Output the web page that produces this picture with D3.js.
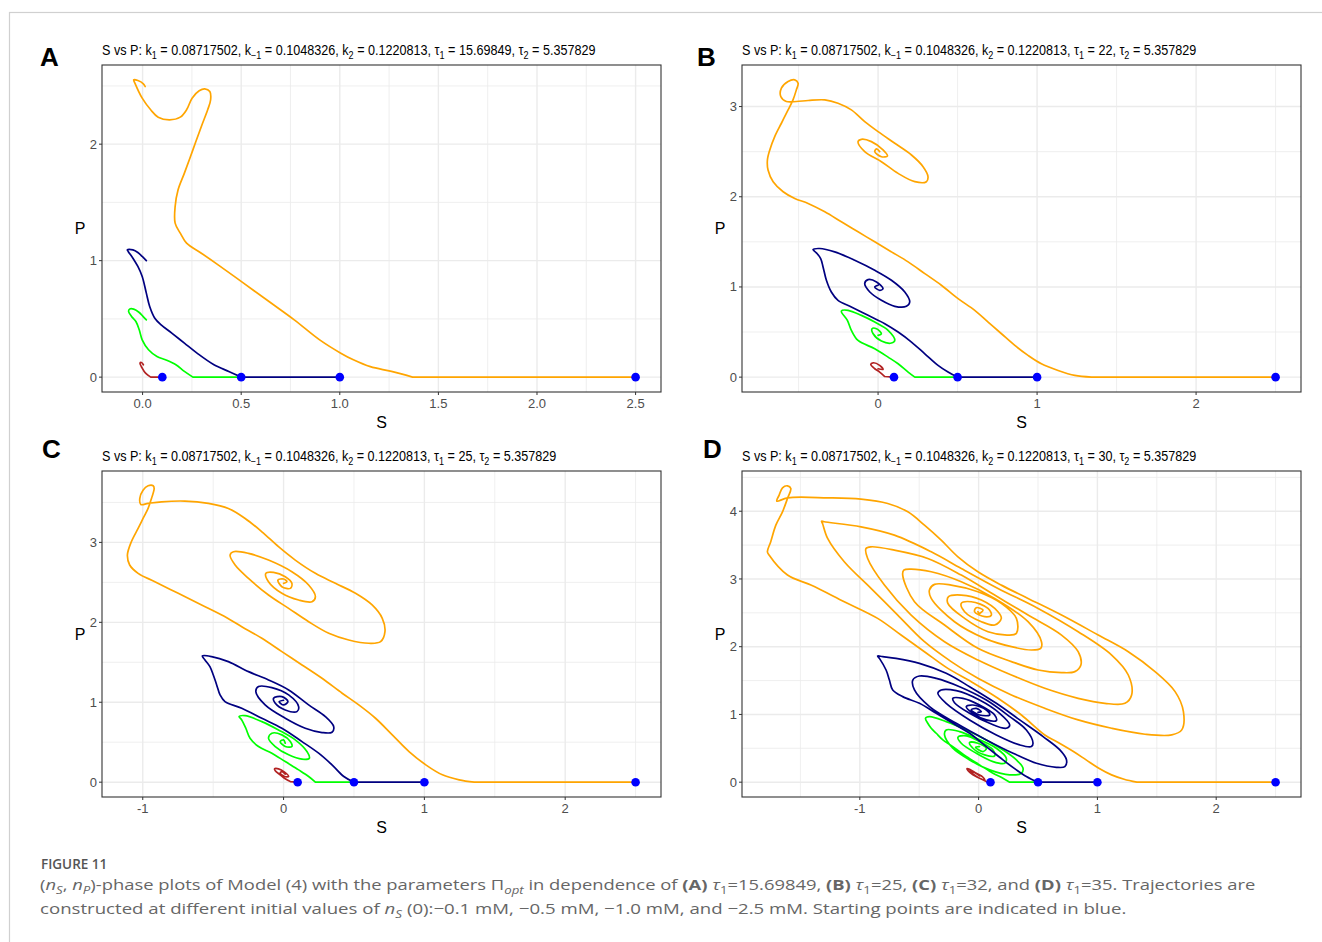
<!DOCTYPE html>
<html>
<head>
<meta charset="utf-8">
<script src="https://cdn.jsdelivr.net/npm/d3@7"></script>
<style>
  body { margin: 0; background: #fff; }
  svg { display: block; font-family: "Liberation Sans", Arial, sans-serif; }
</style>
</head>
<body>
<svg id="fig" width="1322" height="942"></svg>
<script>
// ---- data: (S, P) points, each series starts at its initial S ----
const seriesColors = ['#B22222', '#00FF00', '#000080', '#FFA500'];
const startS = [0.1, 0.5, 1.0, 2.5];
const tau1Values = ['15.69849', '22', '25', '30'];
const panelLetters = ['A', 'B', 'C', 'D'];

const xTicksA = [0, 0.5, 1, 1.5, 2, 2.5];
const xLabelsA = ['0.0', '0.5', '1.0', '1.5', '2.0', '2.5'];
const yTicksA = [0, 1, 2];
const xTicksB = [0, 1, 2];
const yTicksB = [0, 1, 2, 3];
const xTicksC = [-1, 0, 1, 2];
const yTicksC = [0, 1, 2, 3];
const xTicksD = [-1, 0, 1, 2];
const yTicksD = [0, 1, 2, 3, 4];

// panel A (tau1 = 15.69849)
const aRed = [[0.1,0],[0.041,0],[0.015,0.034],[-0.002,0.077],[-0.013,0.12],[-0.006,0.126],[0.004,0.106]];
const aGreen = [[0.5,0],[0.255,0],[0.212,0.049],[0.169,0.106],[0.116,0.149],[0.073,0.177],[0.03,0.235],[-0.002,0.32],[-0.017,0.406],[-0.034,0.478],[-0.056,0.521],[-0.071,0.564],[-0.066,0.584],[-0.045,0.584],[-0.017,0.555],[0.002,0.521],[0.019,0.492]];
const aNavy = [[1,0],[0.501,0],[0.437,0.049],[0.362,0.106],[0.276,0.206],[0.212,0.292],[0.148,0.378],[0.094,0.449],[0.062,0.506],[0.036,0.607],[0.019,0.721],[-0.002,0.864],[-0.024,0.95],[-0.049,1.021],[-0.073,1.079],[-0.077,1.093],[-0.049,1.093],[-0.024,1.07],[-0.002,1.036],[0.019,1.001]];
const aOrange = [[2.5,0],[1.369,0],[1.262,0.049],[1.155,0.09],[1.069,0.149],[1.005,0.206],[0.898,0.32],[0.769,0.492],[0.641,0.649],[0.512,0.807],[0.383,0.964],[0.298,1.064],[0.223,1.15],[0.191,1.236],[0.165,1.322],[0.165,1.465],[0.18,1.608],[0.212,1.751],[0.255,1.951],[0.298,2.152],[0.33,2.295],[0.345,2.381],[0.341,2.452],[0.315,2.475],[0.287,2.458],[0.251,2.395],[0.223,2.295],[0.191,2.232],[0.137,2.209],[0.079,2.232],[0.041,2.295],[-0.002,2.395],[-0.039,2.524],[-0.045,2.552],[-0.024,2.546],[0.004,2.518],[0.013,2.495]];

// panel B (tau1 = 22)
const bRed = [[0.1,0],[0.042,0.007],[0.01,0.056],[-0.021,0.093],[-0.046,0.141],[-0.031,0.159],[0.01,0.13],[0.031,0.085],[0,0.093]];
const bGreen = [[0.5,0],[0.231,0],[0.189,0.056],[0.126,0.148],[0.063,0.222],[-0.021,0.315],[-0.126,0.407],[-0.168,0.519],[-0.193,0.63],[-0.231,0.733],[-0.189,0.741],[-0.105,0.685],[-0.021,0.611],[0.063,0.519],[0.105,0.407],[0.084,0.378],[0.021,0.4],[-0.031,0.481],[-0.038,0.537],[-0.01,0.537],[0.021,0.481],[0,0.463]];
const bNavy = [[1,0],[0.499,0],[0.44,0.056],[0.377,0.13],[0.294,0.259],[0.21,0.389],[0.126,0.5],[0.042,0.593],[-0.063,0.685],[-0.168,0.778],[-0.252,0.852],[-0.294,0.944],[-0.325,1.074],[-0.346,1.222],[-0.361,1.315],[-0.388,1.378],[-0.409,1.415],[-0.367,1.426],[-0.273,1.389],[-0.147,1.296],[-0.021,1.185],[0.084,1.074],[0.168,0.944],[0.199,0.833],[0.178,0.785],[0.105,0.785],[0.021,0.852],[-0.052,0.944],[-0.084,1.037],[-0.063,1.081],[-0.01,1.056],[0.031,0.981],[0.01,0.963],[-0.021,1.0],[0,1.019]];
const bOrange = [[2.5,0],[1.342,0],[1.237,0.019],[1.132,0.074],[1.027,0.148],[0.943,0.241],[0.86,0.352],[0.776,0.481],[0.692,0.611],[0.608,0.741],[0.503,0.87],[0.398,1.019],[0.294,1.148],[0.189,1.278],[0.084,1.389],[-0.021,1.5],[-0.126,1.611],[-0.231,1.722],[-0.335,1.833],[-0.44,1.926],[-0.524,1.981],[-0.597,2.056],[-0.66,2.167],[-0.692,2.296],[-0.696,2.407],[-0.681,2.519],[-0.65,2.667],[-0.608,2.815],[-0.566,2.963],[-0.535,3.074],[-0.514,3.185],[-0.503,3.259],[-0.524,3.296],[-0.566,3.278],[-0.608,3.204],[-0.612,3.111],[-0.577,3.056],[-0.514,3.056],[-0.44,3.067],[-0.335,3.074],[-0.252,3.037],[-0.168,2.963],[-0.084,2.833],[0,2.722],[0.105,2.593],[0.21,2.463],[0.283,2.333],[0.314,2.222],[0.304,2.167],[0.231,2.167],[0.126,2.259],[0.021,2.389],[-0.084,2.5],[-0.126,2.611],[-0.105,2.637],[-0.042,2.611],[0.031,2.519],[0.059,2.452],[0.021,2.444],[-0.021,2.5],[-0.01,2.53],[0.01,2.5]];

// panel C (tau1 = 25)
const cRed = [[0.1,0],[0.048,0.008],[0.012,0.042],[-0.024,0.092],[-0.059,0.142],[-0.064,0.167],[-0.036,0.167],[0.007,0.125],[0.036,0.071],[0.007,0.071],[-0.024,0.113],[-0.012,0.133],[0.012,0.1]];
const cGreen = [[0.5,0],[0.226,0],[0.178,0.071],[0.107,0.154],[0.012,0.258],[-0.083,0.363],[-0.178,0.446],[-0.238,0.55],[-0.268,0.675],[-0.297,0.779],[-0.316,0.821],[-0.273,0.833],[-0.154,0.758],[-0.036,0.654],[0.083,0.529],[0.166,0.383],[0.183,0.3],[0.131,0.288],[0.036,0.342],[-0.059,0.446],[-0.107,0.55],[-0.083,0.613],[-0.012,0.592],[0.048,0.508],[0.059,0.446],[0.012,0.446],[-0.024,0.508],[0,0.529],[0.012,0.488]];
const cNavy = [[1,0],[0.499,0],[0.428,0.071],[0.344,0.217],[0.249,0.363],[0.131,0.508],[-0.012,0.675],[-0.154,0.8],[-0.297,0.925],[-0.416,1.008],[-0.451,1.092],[-0.475,1.217],[-0.499,1.342],[-0.523,1.446],[-0.558,1.529],[-0.577,1.579],[-0.511,1.571],[-0.392,1.508],[-0.249,1.383],[-0.107,1.279],[0.036,1.154],[0.178,0.967],[0.297,0.821],[0.356,0.696],[0.344,0.625],[0.273,0.621],[0.154,0.675],[0.012,0.8],[-0.131,0.967],[-0.197,1.133],[-0.178,1.196],[-0.083,1.183],[0.036,1.092],[0.107,0.946],[0.095,0.883],[0.012,0.904],[-0.059,0.988],[-0.071,1.05],[-0.012,1.071],[0.031,1.008],[0,0.967],[-0.031,1.008],[0,1.025]];
const cOrange = [[2.5,0],[1.354,0],[1.247,0.029],[1.128,0.092],[1.01,0.217],[0.891,0.383],[0.772,0.592],[0.653,0.8],[0.534,0.967],[0.416,1.113],[0.273,1.3],[0.131,1.467],[-0.012,1.633],[-0.154,1.8],[-0.297,1.946],[-0.439,2.092],[-0.582,2.217],[-0.748,2.363],[-0.914,2.508],[-1.033,2.613],[-1.093,2.717],[-1.109,2.842],[-1.081,3.008],[-1.033,3.175],[-0.998,3.3],[-0.962,3.425],[-0.938,3.55],[-0.919,3.675],[-0.926,3.708],[-0.962,3.708],[-0.998,3.654],[-1.021,3.55],[-1.014,3.475],[-0.962,3.488],[-0.867,3.508],[-0.701,3.517],[-0.534,3.488],[-0.392,3.425],[-0.273,3.3],[-0.154,3.133],[-0.036,2.946],[0.083,2.779],[0.226,2.613],[0.368,2.488],[0.511,2.363],[0.629,2.217],[0.701,2.05],[0.72,1.883],[0.689,1.758],[0.606,1.738],[0.463,1.779],[0.321,1.863],[0.178,2.008],[0.036,2.175],[-0.107,2.342],[-0.249,2.55],[-0.344,2.717],[-0.38,2.842],[-0.356,2.883],[-0.249,2.863],[-0.107,2.779],[0.059,2.633],[0.178,2.467],[0.226,2.321],[0.202,2.258],[0.107,2.279],[-0.012,2.363],[-0.107,2.508],[-0.126,2.613],[-0.071,2.625],[0.012,2.571],[0.059,2.488],[0.048,2.425],[-0.012,2.446],[-0.04,2.529],[0,2.542],[0.024,2.508],[0,2.488]];

// panel D (tau1 = 30)
const dRed = [[0.1,0],[0.065,0.01],[0.008,0.059],[-0.048,0.108],[-0.09,0.171],[-0.098,0.201],[-0.076,0.191],[-0.02,0.132],[0.037,0.073],[0.051,0.034],[0.008,0.059],[-0.048,0.122],[-0.076,0.171],[-0.034,0.142],[0.008,0.093]];
const dGreen = [[0.5,0],[0.262,0],[0.205,0.059],[0.121,0.132],[0.008,0.255],[-0.104,0.378],[-0.217,0.525],[-0.301,0.624],[-0.357,0.722],[-0.399,0.796],[-0.428,0.87],[-0.447,0.943],[-0.413,0.968],[-0.273,0.894],[-0.104,0.771],[0.065,0.624],[0.205,0.476],[0.318,0.329],[0.374,0.206],[0.36,0.132],[0.262,0.108],[0.093,0.181],[-0.076,0.329],[-0.217,0.501],[-0.287,0.698],[-0.273,0.771],[-0.16,0.747],[-0.02,0.648],[0.149,0.501],[0.233,0.353],[0.219,0.279],[0.121,0.304],[-0.02,0.427],[-0.146,0.575],[-0.174,0.663],[-0.104,0.683],[0.008,0.599],[0.121,0.476],[0.135,0.388],[0.051,0.403],[-0.048,0.501],[-0.076,0.585],[-0.006,0.575],[0.065,0.501],[0.037,0.452],[-0.025,0.516],[0.008,0.526]];
const dNavy = [[1,0],[0.495,0],[0.402,0.083],[0.318,0.181],[0.205,0.329],[0.065,0.525],[-0.076,0.722],[-0.217,0.869],[-0.357,1.017],[-0.498,1.164],[-0.639,1.263],[-0.723,1.361],[-0.751,1.508],[-0.779,1.656],[-0.835,1.828],[-0.85,1.863],[-0.807,1.853],[-0.695,1.828],[-0.498,1.754],[-0.273,1.607],[-0.076,1.41],[0.149,1.164],[0.346,0.919],[0.543,0.673],[0.684,0.476],[0.74,0.328],[0.726,0.23],[0.655,0.22],[0.487,0.279],[0.29,0.427],[0.065,0.624],[-0.188,0.869],[-0.413,1.115],[-0.54,1.361],[-0.554,1.508],[-0.498,1.567],[-0.357,1.533],[-0.16,1.41],[0.065,1.213],[0.262,0.968],[0.402,0.771],[0.458,0.575],[0.444,0.526],[0.346,0.55],[0.149,0.698],[-0.076,0.919],[-0.273,1.164],[-0.343,1.312],[-0.315,1.361],[-0.188,1.351],[0.008,1.213],[0.177,1.017],[0.262,0.845],[0.233,0.796],[0.093,0.869],[-0.076,1.017],[-0.203,1.174],[-0.217,1.238],[-0.132,1.238],[0.008,1.139],[0.135,0.992],[0.149,0.909],[0.065,0.919],[-0.048,1.017],[-0.104,1.115],[-0.048,1.139],[0.065,1.066],[0.093,0.992],[0.008,0.992],[-0.062,1.066],[-0.02,1.09],[0.023,1.041],[-0.006,1.032]];
const dOrange = [[2.5,0],[1.332,0],[1.225,0.044],[1.119,0.108],[1.012,0.206],[0.905,0.329],[0.798,0.452],[0.655,0.6],[0.557,0.697],[0.36,0.992],[0.163,1.24],[-0.062,1.484],[-0.259,1.68],[-0.456,1.926],[-0.653,2.172],[-0.85,2.418],[-1.131,2.664],[-1.412,2.91],[-1.609,3.058],[-1.764,3.353],[-1.778,3.402],[-1.75,3.55],[-1.707,3.794],[-1.651,3.991],[-1.609,4.188],[-1.581,4.336],[-1.609,4.375],[-1.651,4.346],[-1.679,4.238],[-1.699,4.149],[-1.609,4.198],[-1.271,4.198],[-0.99,4.178],[-0.765,4.114],[-0.596,3.991],[-0.456,3.794],[-0.315,3.573],[-0.174,3.327],[-0.006,3.106],[0.191,2.909],[0.416,2.713],[0.698,2.467],[1.007,2.172],[1.26,1.926],[1.485,1.632],[1.654,1.337],[1.724,1.042],[1.71,0.772],[1.626,0.698],[1.401,0.708],[1.12,0.796],[0.838,0.919],[0.557,1.091],[0.276,1.288],[-0.006,1.534],[-0.231,1.78],[-0.456,2.074],[-0.681,2.467],[-0.906,2.861],[-1.131,3.254],[-1.271,3.598],[-1.314,3.819],[-1.322,3.853],[-1.3,3.844],[-0.99,3.77],[-0.709,3.647],[-0.399,3.401],[-0.146,3.155],[0.163,2.86],[0.501,2.565],[0.838,2.221],[1.12,1.877],[1.26,1.582],[1.288,1.287],[1.232,1.164],[1.063,1.164],[0.838,1.238],[0.557,1.386],[0.276,1.582],[-0.006,1.804],[-0.287,2.074],[-0.568,2.467],[-0.793,2.91],[-0.934,3.303],[-0.948,3.45],[-0.906,3.475],[-0.709,3.426],[-0.428,3.303],[-0.146,3.057],[0.135,2.762],[0.416,2.467],[0.698,2.172],[0.838,1.926],[0.861,1.73],[0.81,1.632],[0.698,1.617],[0.501,1.656],[0.276,1.78],[-0.006,1.976],[-0.287,2.32],[-0.54,2.664],[-0.639,3.057],[-0.63,3.131],[-0.568,3.146],[-0.399,3.106],[-0.146,2.959],[0.135,2.713],[0.416,2.369],[0.529,2.074],[0.523,1.976],[0.444,1.951],[0.276,2.0],[0.051,2.123],[-0.203,2.369],[-0.399,2.713],[-0.414,2.836],[-0.371,2.92],[-0.231,2.91],[-0.006,2.811],[0.191,2.639],[0.318,2.418],[0.318,2.197],[0.248,2.172],[0.079,2.221],[-0.118,2.418],[-0.259,2.639],[-0.253,2.738],[-0.146,2.762],[0.023,2.689],[0.163,2.517],[0.191,2.418],[0.135,2.32],[0.023,2.369],[-0.118,2.517],[-0.146,2.639],[-0.062,2.664],[0.079,2.566],[0.107,2.467],[0.051,2.443],[-0.034,2.517],[-0.02,2.576],[0.037,2.542],[0.008,2.493],[-0.006,2.517]];

// ---- layout ----
const svg = d3.select('#fig');
const panels = [
  { series: [aRed, aGreen, aNavy, aOrange], xTicks: xTicksA, xLabels: xLabelsA, yTicks: yTicksA,
    box: { x: 102, y: 65, w: 559, h: 327 }, letterPos: [40, 66], titleW: 494 },
  { series: [bRed, bGreen, bNavy, bOrange], xTicks: xTicksB, xLabels: xTicksB.map(String), yTicks: yTicksB,
    box: { x: 742, y: 65, w: 559, h: 327 }, letterPos: [697, 66], titleW: 455 },
  { series: [cRed, cGreen, cNavy, cOrange], xTicks: xTicksC, xLabels: xTicksC.map(String), yTicks: yTicksC,
    box: { x: 102, y: 471, w: 559, h: 326 }, letterPos: [42, 458], titleW: 455 },
  { series: [dRed, dGreen, dNavy, dOrange], xTicks: xTicksD, xLabels: xTicksD.map(String), yTicks: yTicksD,
    box: { x: 742, y: 471, w: 559, h: 326 }, letterPos: [703, 458], titleW: 455 }
];

// outer frame of the figure page
svg.append('rect')
  .attr('x', 9.5).attr('y', 12.5)
  .attr('width', 1400).attr('height', 1000)
  .attr('fill', 'none').attr('stroke', '#d0d0d0').attr('stroke-width', 1.2);

// rich text helper: parts = [text, flags] with flags s=subscript, i=italic, b=bold
function addRich(textSel, parts, size) {
  let shift = 0;
  parts.forEach(([str, flags = '']) => {
    const sub = flags.includes('s');
    const target = sub ? size * 0.28 : 0;
    const t = textSel.append('tspan')
      .text(str)
      .attr('dy', target - shift)
      .style('font-size', (sub ? size * 0.72 : size) + 'px');
    if (flags.includes('i')) t.style('font-style', 'italic');
    if (flags.includes('b')) t.style('font-weight', 'bold');
    shift = target;
  });
}

// squeeze a text horizontally so it spans the width seen in the figure
function fitWidth(textSel, x, y, width) {
  const len = textSel.node().getComputedTextLength();
  textSel.attr('transform', `translate(${x},${y}) scale(${width / len},1)`);
}

const minorBetween = (ticks) => {
  const step = ticks[1] - ticks[0];
  const out = [];
  for (let v = ticks[0] - step / 2; v <= ticks[ticks.length - 1] + step; v += step) out.push(v);
  return out;
};

panels.forEach((p, i) => {
  const { box } = p;
  const all = p.series.flat();
  const [sMin, sMax] = d3.extent(all, (d) => d[0]);
  const [pMin, pMax] = d3.extent(all, (d) => d[1]);
  const sPad = (sMax - sMin) * 0.05;
  const pPad = (pMax - pMin) * 0.05;

  const x = d3.scaleLinear().domain([sMin - sPad, sMax + sPad]).range([box.x, box.x + box.w]);
  const y = d3.scaleLinear().domain([pMin - pPad, pMax + pPad]).range([box.y + box.h, box.y]);

  const g = svg.append('g');
  const clipId = `clip-${i}`;
  svg.append('clipPath').attr('id', clipId)
    .append('rect').attr('x', box.x).attr('y', box.y).attr('width', box.w).attr('height', box.h);

  const grid = g.append('g').attr('clip-path', `url(#${clipId})`);
  // minor grid
  minorBetween(p.xTicks).forEach((v) => {
    grid.append('line')
      .attr('x1', x(v)).attr('x2', x(v)).attr('y1', box.y).attr('y2', box.y + box.h)
      .attr('stroke', '#EBEBEB').attr('stroke-width', 0.8);
  });
  minorBetween(p.yTicks).forEach((v) => {
    grid.append('line')
      .attr('y1', y(v)).attr('y2', y(v)).attr('x1', box.x).attr('x2', box.x + box.w)
      .attr('stroke', '#EBEBEB').attr('stroke-width', 0.8);
  });
  // major grid
  p.xTicks.forEach((v) => {
    grid.append('line')
      .attr('x1', x(v)).attr('x2', x(v)).attr('y1', box.y).attr('y2', box.y + box.h)
      .attr('stroke', '#EBEBEB').attr('stroke-width', 1.4);
  });
  p.yTicks.forEach((v) => {
    grid.append('line')
      .attr('y1', y(v)).attr('y2', y(v)).attr('x1', box.x).attr('x2', box.x + box.w)
      .attr('stroke', '#EBEBEB').attr('stroke-width', 1.4);
  });

  // trajectories: straight run along P = 0 from the start point, then a smooth curve
  const smooth = d3.line()
    .x((d) => x(d[0]))
    .y((d) => y(d[1]))
    .curve(d3.curveCatmullRom.alpha(0.5));
  const paths = g.append('g').attr('clip-path', `url(#${clipId})`);
  p.series.forEach((data, k) => {
    const [s0, p0] = data[0];
    const rest = smooth(data.slice(1)).replace(/^M/, 'L');
    paths.append('path')
      .attr('d', `M${x(s0)},${y(p0)}${rest}`)
      .attr('fill', 'none')
      .attr('stroke', seriesColors[k])
      .attr('stroke-width', 1.7)
      .attr('stroke-linejoin', 'round')
      .attr('stroke-linecap', 'round');
  });

  // starting points
  g.selectAll('circle.start')
    .data(startS)
    .enter()
    .append('circle')
    .attr('class', 'start')
    .attr('cx', (d) => x(d))
    .attr('cy', y(0))
    .attr('r', 4.3)
    .attr('fill', '#0000FF');

  // panel border
  g.append('rect')
    .attr('x', box.x).attr('y', box.y).attr('width', box.w).attr('height', box.h)
    .attr('fill', 'none').attr('stroke', '#333').attr('stroke-width', 1.1);

  // axes ticks and labels
  p.xTicks.forEach((v, k) => {
    g.append('line')
      .attr('x1', x(v)).attr('x2', x(v))
      .attr('y1', box.y + box.h).attr('y2', box.y + box.h + 3)
      .attr('stroke', '#333').attr('stroke-width', 1);
    g.append('text')
      .attr('x', x(v)).attr('y', box.y + box.h + 16)
      .attr('text-anchor', 'middle')
      .style('font-size', '13px').attr('fill', '#4D4D4D')
      .text(p.xLabels[k]);
  });
  p.yTicks.forEach((v) => {
    g.append('line')
      .attr('x1', box.x - 3).attr('x2', box.x)
      .attr('y1', y(v)).attr('y2', y(v))
      .attr('stroke', '#333').attr('stroke-width', 1);
    g.append('text')
      .attr('x', box.x - 5).attr('y', y(v)).attr('dy', '0.35em')
      .attr('text-anchor', 'end')
      .style('font-size', '13px').attr('fill', '#4D4D4D')
      .text(String(v));
  });

  // axis titles
  g.append('text')
    .attr('x', box.x + box.w / 2).attr('y', box.y + box.h + 36)
    .attr('text-anchor', 'middle').style('font-size', '16px').attr('fill', '#000')
    .text('S');
  g.append('text')
    .attr('x', box.x - 22).attr('y', box.y + box.h / 2).attr('dy', '0.35em')
    .attr('text-anchor', 'middle').style('font-size', '16px').attr('fill', '#000')
    .text('P');

  // plot title
  const title = g.append('text').attr('fill', '#000');
  addRich(title, [
    ['S vs P: k'], ['1', 's'], [' = 0.08717502, k'], ['\u22121', 's'],
    [' = 0.1048326, k'], ['2', 's'], [' = 0.1220813, \u03c4'], ['1', 's'],
    [' = ' + tau1Values[i] + ', \u03c4'], ['2', 's'], [' = 5.357829']
  ], 14);
  fitWidth(title, box.x, box.y - 10, p.titleW);

  // panel letter
  svg.append('text')
    .attr('x', p.letterPos[0]).attr('y', p.letterPos[1])
    .style('font-size', '26px').style('font-weight', 'bold').attr('fill', '#000')
    .text(panelLetters[i]);
});

// ---- caption ----
const capFont = '"Open Sans", "Noto Sans", sans-serif';
svg.append('text')
  .attr('x', 41).attr('y', 869)
  .style('font-family', capFont).style('font-size', '13.5px').style('font-weight', 600)
  .attr('fill', '#555')
  .text('FIGURE 11');

const cap1 = svg.append('text').style('font-family', capFont).attr('fill', '#666');
addRich(cap1, [
  ['('], ['n', 'i'], ['S', 'si'], [', '], ['n', 'i'], ['P', 'si'],
  [')-phase plots of Model (4) with the parameters \u03a0'], ['opt', 'si'],
  [' in dependence of '], ['(A)', 'b'], [' '], ['\u03c4', 'i'], ['1', 's'], ['=15.69849, '],
  ['(B)', 'b'], [' '], ['\u03c4', 'i'], ['1', 's'], ['=25, '],
  ['(C)', 'b'], [' '], ['\u03c4', 'i'], ['1', 's'], ['=32, and '],
  ['(D)', 'b'], [' '], ['\u03c4', 'i'], ['1', 's'], ['=35. Trajectories are']
], 15);
fitWidth(cap1, 40, 890, 1217);

const cap2 = svg.append('text').style('font-family', capFont).attr('fill', '#666');
addRich(cap2, [
  ['constructed at different initial values of '], ['n', 'i'], ['S', 'si'],
  [' (0):\u22120.1 mM, \u22120.5 mM, \u22121.0 mM, and \u22122.5 mM. Starting points are indicated in blue.']
], 15);
fitWidth(cap2, 40, 914, 1087);
</script>
</body>
</html>
